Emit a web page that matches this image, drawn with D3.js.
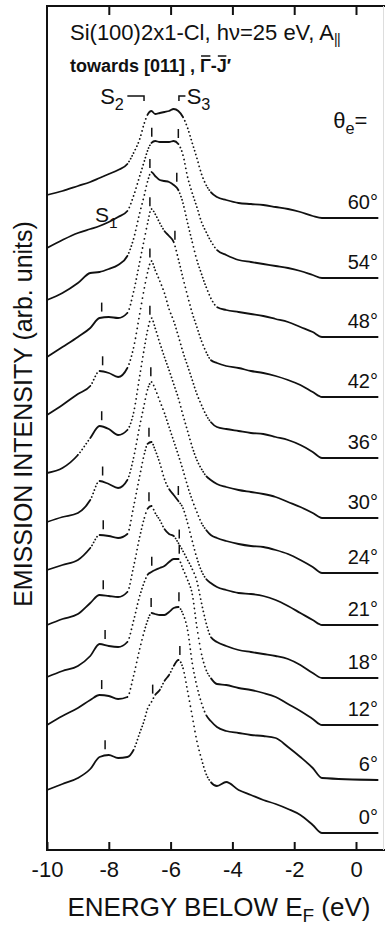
<!DOCTYPE html>
<html>
<head>
<meta charset="utf-8">
<script src="https://cdn.jsdelivr.net/npm/d3@7"></script>
<style>
  html, body { margin: 0; padding: 0; background: #fff; }
  svg { display: block; }
  text { font-family: "Liberation Sans", Arial, Helvetica, sans-serif; fill: #111; }
</style>
</head>
<body>
<svg id="chart" width="385" height="925"></svg>
<script>
// Energy grid (eV below E_F) shared by all spectra
const energies = [-10, -9.5, -9, -8.6, -8.3, -8.0, -7.7, -7.4, -7.2, -7.0, -6.85, -6.75, -6.62, -6.5,
  -6.35, -6.2, -6.05, -5.9, -5.75, -5.6, -5.45, -5.3, -5.15, -5.0, -4.85, -4.7, -4.5, -4.2, -3.8,
  -3.4, -3.0, -2.6, -2.2, -1.8, -1.4, -1.1, 0.7];

// Emission angles, top to bottom, and the vertical offset of each spectrum (arb. units)
const angles = [60, 54, 48, 42, 36, 30, 24, 21, 18, 12, 6, 0];
const offsets = [63.2, 57.2, 51.3, 45.3, 39.2, 33.2, 27.7, 22.5, 17.2, 12.5, 7.0, 1.7];

// Emission intensity above each spectrum's own baseline (arb. units)
const theta60 = [2.3, 2.7, 3.2, 3.6, 4.0, 4.4, 4.8, 5.4, 6.5, 7.9, 9.5, 10.3, 10.7, 10.4, 10.5, 10.6, 10.7, 10.9, 10.7, 10.1, 9.0, 7.5, 6.0, 4.4, 3.3, 2.6, 2.1, 1.8, 1.5, 1.4, 1.3, 1.1, 0.9, 0.6, 0.2, 0, 0];
const theta54 = [3.0, 3.8, 4.5, 4.9, 5.2, 5.6, 6.1, 6.7, 8.2, 10.2, 11.7, 12.7, 13.5, 13.7, 13.6, 13.6, 13.6, 13.7, 13.4, 12.3, 10.1, 8.5, 7.1, 5.6, 4.6, 3.7, 2.8, 2.3, 1.8, 1.6, 1.4, 1.2, 1.0, 0.7, 0.3, 0, 0];
const theta48 = [3.7, 4.4, 5.4, 6.4, 6.5, 6.8, 7.2, 8.1, 9.8, 12.4, 14.2, 15.5, 16.5, 16.1, 15.7, 15.6, 15.5, 15.2, 14.7, 13.4, 11.4, 9.5, 7.7, 6.3, 5.0, 3.9, 3.0, 2.7, 2.5, 2.3, 2.1, 1.8, 1.5, 1.0, 0.5, 0, 0];
const theta42 = [4.0, 5.0, 6.0, 6.9, 7.9, 8.0, 7.9, 8.4, 10.5, 13.5, 15.8, 17.3, 18.8, 18.3, 17.4, 16.6, 16.1, 15.5, 13.8, 11.9, 10.1, 8.4, 7.0, 5.6, 4.5, 3.7, 3.4, 3.1, 2.9, 2.6, 2.4, 2.1, 1.7, 1.2, 0.5, 0, 0];
const theta36 = [4.3, 5.3, 6.4, 7.2, 8.7, 8.5, 8.1, 9.0, 11.0, 14.4, 17.0, 18.5, 19.7, 18.8, 17.7, 16.5, 14.9, 13.7, 12.2, 10.6, 9.2, 7.8, 6.4, 5.3, 4.3, 3.6, 3.1, 2.9, 2.7, 2.5, 2.4, 2.1, 1.8, 1.3, 0.6, 0, 0];
const theta30 = [4.5, 5.0, 6.3, 8.0, 9.2, 8.9, 8.3, 8.8, 10.5, 14.2, 17.0, 18.7, 20.0, 19.0, 17.5, 16.1, 14.8, 13.4, 12.0, 10.3, 8.7, 7.1, 5.8, 4.9, 4.2, 3.8, 3.4, 3.1, 2.8, 2.6, 2.4, 2.1, 1.6, 1.1, 0.5, 0, 0];
const theta24 = [5.1, 5.6, 6.0, 7.3, 9.2, 8.9, 8.5, 9.3, 11.5, 14.7, 16.9, 18.3, 19.1, 18.4, 17.2, 16.0, 14.6, 13.2, 11.8, 10.3, 8.7, 7.3, 6.1, 5.0, 4.3, 3.8, 3.5, 3.2, 2.9, 2.7, 2.6, 2.3, 1.9, 1.3, 0.6, 0, 0];
const theta21 = [5.5, 6.0, 6.5, 7.7, 9.0, 8.9, 8.7, 9.1, 11.8, 14.9, 17.1, 18.1, 18.3, 17.5, 16.2, 14.6, 13.6, 13.0, 12.4, 11.7, 10.2, 8.4, 6.7, 5.4, 4.6, 4.2, 3.8, 3.5, 3.2, 3.1, 2.9, 2.5, 1.9, 1.2, 0.5, 0, 0];
const theta18 = [5.3, 5.9, 6.4, 7.5, 8.3, 8.2, 8.1, 8.6, 11.1, 14.1, 16.0, 16.9, 17.2, 16.5, 15.8, 14.9, 14.4, 14.2, 13.5, 12.7, 11.8, 10.9, 9.7, 7.5, 5.5, 4.1, 3.6, 3.2, 2.8, 2.6, 2.4, 2.2, 1.9, 1.3, 0.5, 0, 0];
const theta12 = [4.8, 5.4, 5.9, 6.9, 8.1, 7.9, 7.8, 8.3, 10.4, 12.9, 14.3, 15.0, 15.3, 15.5, 15.7, 15.9, 16.3, 16.6, 16.6, 15.6, 14.5, 13.1, 9.8, 7.1, 5.5, 4.7, 4.1, 4.0, 3.7, 3.5, 3.2, 2.8, 2.1, 1.4, 0.6, 0, 0];
const theta6 = [5.5, 6.4, 7.2, 8.0, 8.5, 8.4, 8.1, 8.3, 10.4, 13.1, 14.9, 15.9, 16.7, 16.6, 16.5, 16.5, 16.8, 17.2, 17.3, 16.6, 15.0, 11.7, 9.4, 7.7, 6.5, 5.9, 5.3, 4.9, 4.7, 4.5, 4.4, 4.2, 3.3, 2.3, 1.2, 0.2, 0];
const theta0 = [4.3, 4.9, 5.5, 6.4, 7.6, 7.8, 7.5, 7.6, 8.3, 10.0, 11.3, 12.4, 13.1, 13.8, 14.3, 15.2, 15.8, 16.7, 17.3, 16.5, 14.2, 11.7, 9.2, 7.4, 5.9, 5.1, 4.7, 5.1, 4.3, 3.8, 3.3, 2.9, 2.4, 1.8, 0.8, 0, 0];
const series = [theta60, theta54, theta48, theta42, theta36, theta30, theta24, theta21, theta18, theta12, theta6, theta0];

// Surface-state positions marked on each spectrum (eV), null where unmarked
const s1Energy = [null, null, null, -8.23, -8.2, -8.23, -8.2, -8.18, -8.18, -8.12, -8.23, -8.12];
const s2Energy = [null, -6.61, -6.67, -6.67, -6.67, -6.67, -6.64, -6.7, -6.7, -6.61, -6.63, -6.58];
const s3Energy = [null, -5.75, -5.8, -5.86, null, null, null, -5.75, -5.72, -5.72, -5.73, -5.7];

// Axis ticks
const xTicks = [-10, -8, -6, -4, -2, 0];

const W = 385, H = 925;
const svg = d3.select("#chart");
const x = d3.scaleLinear().domain([-10, 0]).range([47, 356]);
const y = d3.scaleLinear().domain([0, 84.4]).range([850, 6]);
const xRight = x.invert(W);

// Frame
const frame = svg.append("g").attr("stroke", "#111").attr("stroke-width", 2).attr("fill", "none");
frame.append("line").attr("x1", x(-10)).attr("x2", x(-10)).attr("y1", y(84.4) - 1).attr("y2", y(0) + 1);
frame.append("line").attr("x1", x(-10) - 1).attr("x2", x(xRight)).attr("y1", y(0)).attr("y2", y(0));
frame.append("line").attr("x1", x(-10) - 1).attr("x2", x(xRight)).attr("y1", y(84.4)).attr("y2", y(84.4));
svg.append("line").attr("x1", W - 1.5).attr("x2", W - 1.5).attr("y1", y(84.4)).attr("y2", y(0))
  .attr("stroke", "#ddd").attr("stroke-width", 1);

// Bottom axis with inward ticks
const axB = svg.append("g").attr("transform", `translate(0,${y(0)})`)
  .call(d3.axisBottom(x).tickValues(xTicks).tickSizeInner(-8).tickSizeOuter(0).tickPadding(11)
    .tickFormat(d => String(d)));
axB.select(".domain").remove();
axB.selectAll("line").attr("stroke", "#111").attr("stroke-width", 2);
axB.selectAll("text").attr("font-size", 22).attr("fill", "#111")
  .attr("font-family", '"Liberation Sans", Arial, sans-serif');

// Top axis, ticks only
const axT = svg.append("g").attr("transform", `translate(0,${y(84.4)})`)
  .call(d3.axisTop(x).tickValues(xTicks.slice(1)).tickSizeInner(-9).tickSizeOuter(0).tickFormat(""));
axT.select(".domain").remove();
axT.selectAll("line").attr("stroke", "#111").attr("stroke-width", 2);

// Spectra
const line = d3.line().x(d => x(d[0])).y(d => y(d[1])).curve(d3.curveMonotoneX);
const plot = svg.append("g");

function lengthAtX(node, tx, total) {
  let lo = 0, hi = total;
  for (let k = 0; k < 28; k++) {
    const mid = (lo + hi) / 2;
    if (node.getPointAtLength(mid).x < tx) lo = mid; else hi = mid;
  }
  return (lo + hi) / 2;
}

series.forEach((vals, i) => {
  const data = energies.map((e, k) => [e, offsets[i] + vals[k]]);
  const path = plot.append("path")
    .attr("d", line(data))
    .attr("fill", "none")
    .attr("stroke", "#111")
    .attr("stroke-width", 1.8)
    .attr("stroke-linecap", "round")
    .attr("stroke-linejoin", "round");
  const node = path.node();
  const total = node.getTotalLength();
  const at = data.map(d => lengthAtX(node, x(d[0]), total));

  // Steep stretches of a sampled spectrum show up as separate dots
  const dash = [];
  let solid = 0;
  for (let k = 0; k < data.length - 1; k++) {
    const dx = x(data[k + 1][0]) - x(data[k][0]);
    const dy = y(data[k + 1][1]) - y(data[k][1]);
    const s = Math.abs(dy / dx);
    const segLen = at[k + 1] - at[k];
    if (s < 1.3) {
      solid += segLen;
    } else {
      if (solid > 0) { dash.push(solid, 0); solid = 0; }
      const sp = Math.min(5, 2.7 + 0.4 * s);
      const n = Math.max(1, Math.round(segLen / sp));
      const step = segLen / n;
      for (let j = 0; j < n; j++) dash.push(0.001, step - 0.001);
    }
  }
  dash.push(solid + total + 50, 0);
  path.attr("stroke-dasharray", dash.map(v => v.toFixed(3)).join(" "));

  // S1 / S2 / S3 markers above the spectrum
  [s1Energy[i], s2Energy[i], s3Energy[i]].forEach(e => {
    if (e == null) return;
    const p = node.getPointAtLength(lengthAtX(node, x(e), total));
    plot.append("line")
      .attr("x1", p.x).attr("x2", p.x)
      .attr("y1", p.y - 6).attr("y2", p.y - 15)
      .attr("stroke", "#111").attr("stroke-width", 1.5);
  });

  // Angle label on the baseline
  svg.append("text")
    .attr("x", x(0.71)).attr("y", y(offsets[i]) - 9)
    .attr("text-anchor", "end")
    .attr("font-size", 20)
    .text(angles[i] + "°");
});

// S2 / S3 brackets over the top spectrum
const topPeak = y(offsets[0] + d3.max(theta60)) - 13;
const br = svg.append("g").attr("stroke", "#111").attr("stroke-width", 1.5).attr("fill", "none");
br.append("path").attr("d", `M${x(-7.4)},${topPeak}H${x(-6.86)}V${topPeak + 5}`);
br.append("path").attr("d", `M${x(-5.52)},${topPeak}H${x(-5.73)}V${topPeak + 5}`);

function subLabel(xp, yp, main, sub, size) {
  const t = svg.append("text").attr("x", xp).attr("y", yp).attr("font-size", size);
  t.append("tspan").text(main);
  t.append("tspan").attr("font-size", size * 0.74).attr("dy", size * 0.27).text(sub);
  return t;
}
subLabel(x(-8.28), topPeak + 8, "S", "2", 22);
subLabel(x(-5.48), topPeak + 8, "S", "3", 22);
subLabel(x(-8.45), y(62.8), "S", "1", 21);

// Emission angle heading
subLabel(x(-0.74), y(72.2), "θ", "e", 22).append("tspan").attr("dy", -22 * 0.27).attr("font-size", 22).text("=");

// Title
const t1 = svg.append("text").attr("x", 70).attr("y", 40).attr("font-size", 22);
t1.append("tspan").text("Si(100)2x1-Cl, hν=25 eV, A");
t1.append("tspan").attr("font-size", 14).attr("dy", 4).attr("letter-spacing", -0.5).text("||");

const t2 = svg.append("text").attr("x", 70).attr("y", 72).attr("font-size", 18).attr("font-weight", "bold")
  .text("towards [011] , Γ-J′");
const t2s = t2.text();
[t2s.indexOf("Γ"), t2s.indexOf("J")].forEach(ci => {
  const a = t2.node().getStartPositionOfChar(ci);
  const b = t2.node().getEndPositionOfChar(ci);
  svg.append("line").attr("x1", a.x + 1).attr("x2", b.x - 0.5)
    .attr("y1", 72 - 16).attr("y2", 72 - 16)
    .attr("stroke", "#111").attr("stroke-width", 1.5);
});

// Axis titles
const xt = svg.append("text").attr("x", 219).attr("y", 916).attr("text-anchor", "middle").attr("font-size", 26);
xt.append("tspan").text("ENERGY BELOW E");
xt.append("tspan").attr("font-size", 19).attr("dy", 6).text("F");
xt.append("tspan").attr("dy", -6).text(" (eV)");

svg.append("text")
  .attr("transform", `translate(32,414) rotate(-90)`)
  .attr("text-anchor", "middle")
  .attr("font-size", 25)
  .text("EMISSION INTENSITY (arb. units)");
</script>
</body>
</html>
